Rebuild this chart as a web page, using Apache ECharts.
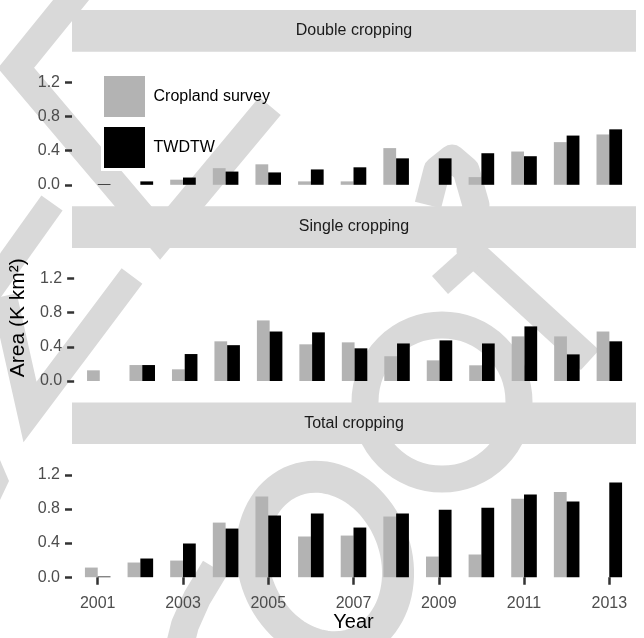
<!DOCTYPE html>
<html><head><meta charset="utf-8">
<script src="https://cdn.jsdelivr.net/npm/echarts@6/dist/echarts.min.js"></script>
<style>html,body{margin:0;padding:0;background:#fff}#c{width:644px;height:638px}</style>
</head><body><div id="c"></div>
<script>
// ---- data ----
const years = ['2001','2002','2003','2004','2005','2006','2007','2008','2009','2010','2011','2012','2013'];
const panelTitles = ['Double cropping','Single cropping','Total cropping'];
const seriesNames = ['Cropland survey','TWDTW'];
const yTicks = [0, 0.4, 0.8, 1.2];
const doubleSurvey = [0, 0, 0.06, 0.195, 0.24, 0.04, 0.04, 0.43, 0, 0.09, 0.39, 0.50, 0.59];
const doubleTwdtw  = [0.008, 0.04, 0.085, 0.155, 0.145, 0.18, 0.205, 0.31, 0.31, 0.37, 0.335, 0.577, 0.65];
const singleSurvey = [0.125, 0.187, 0.137, 0.465, 0.71, 0.43, 0.453, 0.29, 0.242, 0.184, 0.523, 0.523, 0.58];
const singleTwdtw  = [0, 0.187, 0.316, 0.42, 0.58, 0.57, 0.383, 0.44, 0.476, 0.44, 0.64, 0.312, 0.465];
const totalSurvey  = [0.113, 0.172, 0.195, 0.64, 0.946, 0.477, 0.488, 0.711, 0.242, 0.266, 0.92, 1.0, 0];
const totalTwdtw   = [0.008, 0.219, 0.395, 0.57, 0.723, 0.746, 0.582, 0.746, 0.79, 0.815, 0.97, 0.886, 1.11];

const surveyData = [doubleSurvey, singleSurvey, totalSurvey];
const twdtwData = [doubleTwdtw, singleTwdtw, totalTwdtw];

// ---- layout / style ----
const FONT = "'Liberation Sans', Arial, Helvetica, sans-serif";
const WM = '#d9d9d9';
const gridTop0 = 51.7, gridStep = 196.2, gridH = 139.5, stripH = 41.7;
const gridLeft = 76.4, gridW = 554.2;

const grids = [], xAxes = [], yAxes = [], series = [], graphics = [];

// watermark (decorative)
function ellipsePts(cx, cy, a, b, phiDeg, n) {
  const p = [], phi = phiDeg * Math.PI / 180;
  for (let k = 0; k < n; k++) {
    const t = 2 * Math.PI * k / n;
    p.push([cx + a * Math.cos(t) * Math.cos(phi) - b * Math.sin(t) * Math.sin(phi),
            cy + a * Math.cos(t) * Math.sin(phi) + b * Math.sin(t) * Math.cos(phi)]);
  }
  return p;
}
const wmLine = (pts, w, join) => ({type:'polyline', z:-3, silent:true,
  shape:{points:pts}, style:{stroke:WM, lineWidth:w, fill:null, lineJoin:join||'miter', miterLimit:10, lineCap:'butt'}});
graphics.push(wmLine([[84,-16],[16,68],[160,238],[270,106]], 28));
graphics.push(wmLine([[132,276],[30,412],[4,296]], 26));
graphics.push(wmLine([[52,203],[-10,290]], 26));
graphics.push({type:'polygon', z:-3, silent:true, shape:{points:[[0,460],[9,481],[0,500]]}, style:{fill:WM}});
graphics.push({type:'circle', z:-3, silent:true, shape:{cx:442, cy:402, r:77}, style:{stroke:WM, lineWidth:27, fill:null}});
graphics.push({type:'polygon', z:-3, silent:true, shape:{points:ellipsePts(325,562,87,71,70,90)}, style:{stroke:WM, lineWidth:32, fill:null}});
graphics.push(wmLine([[215,568],[197,598],[185,625],[180,645]], 28, 'round'));
graphics.push(wmLine([[590,360],[470,250],[476,205],[466,170],[452,158],[437,170],[428,205]], 27, 'round'));
graphics.push(wmLine([[470,258],[440,285]], 24));

for (let i = 0; i < 3; i++) {
  const top = gridTop0 + i * gridStep;
  grids.push({left: gridLeft, width: gridW, top: top, height: gridH});
  graphics.push({type:'rect', z:-1, silent:true, shape:{x:72, y: top - stripH, width:564, height: stripH}, style:{fill:'#d9d9d9'}});
  graphics.push({type:'text', z:0, silent:true, x:354, y: top - stripH/2,
    style:{text: panelTitles[i], fill:'#1a1a1a', font: '16px ' + FONT, textAlign:'center', textVerticalAlign:'middle'}});
  xAxes.push({
    type:'category', gridIndex:i, data: years,
    axisLine:{show:false},
    axisTick:{show: i === 2, alignWithLabel:true, interval:1, length:7.5, lineStyle:{color:'#333333', width:2.5}},
    axisLabel:{show: i === 2, interval:1, margin:12, color:'#4d4d4d', fontSize:16, fontFamily:FONT},
    splitLine:{show:false},
    name: i === 2 ? 'Year' : '', nameLocation:'middle', nameGap:28,
    nameTextStyle:{fontSize:20, color:'#000', fontFamily:FONT}
  });
  yAxes.push({
    type:'value', gridIndex:i, min:-0.075, max:1.56, offset:4.4,
    axisLine:{show:false},
    axisTick:{show:true, customValues: yTicks, length:7, lineStyle:{color:'#333333', width:2.5}},
    axisLabel:{customValues: yTicks, formatter: v => Number(v).toFixed(1), margin:12, color:'#4d4d4d', fontSize:16, fontFamily:FONT},
    splitLine:{show:false},
    name: i === 1 ? 'Area (K km\u00b2)' : '', nameLocation:'middle', nameGap:43.5, nameRotate:90,
    nameTextStyle:{fontSize:21, color:'#000', fontFamily:FONT}
  });
  series.push({type:'bar', name: seriesNames[0], xAxisIndex:i, yAxisIndex:i, data: surveyData[i],
    itemStyle:{color:'#b3b3b3'}, barGap:'0%', barCategoryGap:'40%', silent:true});
  series.push({type:'bar', name: seriesNames[1], xAxisIndex:i, yAxisIndex:i, data: twdtwData[i],
    itemStyle:{color:'#000000'}, barGap:'0%', barCategoryGap:'40%', silent:true});
}

const chart = echarts.init(document.getElementById('c'), null, {renderer:'canvas'});
chart.setOption({
  animation:false,
  backgroundColor:'#ffffff',
  textStyle:{fontFamily:FONT},
  grid: grids, xAxis: xAxes, yAxis: yAxes, series: series,
  graphic: graphics,
  legend:{
    data: seriesNames, orient:'vertical', left:101, top:73, padding:0,
    itemWidth:44, itemHeight:44, itemGap:4, icon:'rect', selectedMode:false,
    itemStyle:{borderColor:'#ffffff', borderWidth:3},
    textStyle:{fontSize:16, color:'#000', fontFamily:FONT, padding:[0,0,0,2]}
  }
});
</script></body></html>
